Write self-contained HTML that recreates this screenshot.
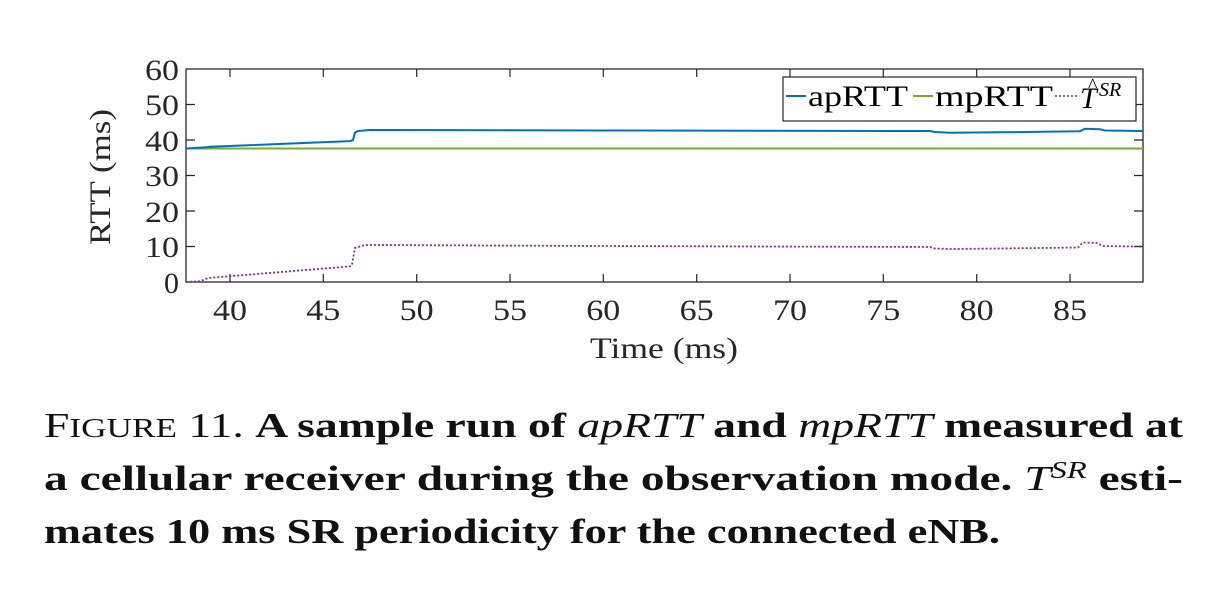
<!DOCTYPE html>
<html><head><meta charset="utf-8"><style>
html,body{margin:0;padding:0;background:#fff;}
svg{display:block;}
</style></head><body>
<svg width="1222" height="598" viewBox="0 0 1222 598" xmlns="http://www.w3.org/2000/svg" font-family="Liberation Serif, serif">
<rect width="1222" height="598" fill="#fff"/>
<rect x="186" y="69" width="957" height="213" fill="none" stroke="#262626" stroke-width="1.3"/>
<g stroke="#262626" stroke-width="1.2">
<path d="M230 282v-8M323.3 282v-8M416.7 282v-8M510 282v-8M603.3 282v-8M696.7 282v-8M790 282v-8M883.3 282v-8M976.7 282v-8M1070 282v-8"/>
<path d="M230 69v8M323.3 69v8M416.7 69v8M510 69v8M603.3 69v8M696.7 69v8M790 69v8M883.3 69v8M976.7 69v8M1070 69v8"/>
<path d="M186 246.5h9M186 211h9M186 175.5h9M186 140h9M186 104.5h9"/>
<path d="M1143 246.5h-9M1143 211h-9M1143 175.5h-9M1143 140h-9M1143 104.5h-9"/>
</g>
<g font-size="30" fill="#262626" text-anchor="end">
<text x="179" y="293" >0</text>
<text x="179" y="257" textLength="34" lengthAdjust="spacingAndGlyphs">10</text>
<text x="179" y="222" textLength="34" lengthAdjust="spacingAndGlyphs">20</text>
<text x="179" y="186" textLength="34" lengthAdjust="spacingAndGlyphs">30</text>
<text x="179" y="151" textLength="34" lengthAdjust="spacingAndGlyphs">40</text>
<text x="179" y="115" textLength="34" lengthAdjust="spacingAndGlyphs">50</text>
<text x="179" y="80" textLength="34" lengthAdjust="spacingAndGlyphs">60</text>
</g>
<g font-size="30" fill="#262626" text-anchor="middle">
<text x="230" y="320" textLength="34" lengthAdjust="spacingAndGlyphs">40</text>
<text x="323.3" y="320" textLength="34" lengthAdjust="spacingAndGlyphs">45</text>
<text x="416.7" y="320" textLength="34" lengthAdjust="spacingAndGlyphs">50</text>
<text x="510" y="320" textLength="34" lengthAdjust="spacingAndGlyphs">55</text>
<text x="603.3" y="320" textLength="34" lengthAdjust="spacingAndGlyphs">60</text>
<text x="696.7" y="320" textLength="34" lengthAdjust="spacingAndGlyphs">65</text>
<text x="790" y="320" textLength="34" lengthAdjust="spacingAndGlyphs">70</text>
<text x="883.3" y="320" textLength="34" lengthAdjust="spacingAndGlyphs">75</text>
<text x="976.7" y="320" textLength="34" lengthAdjust="spacingAndGlyphs">80</text>
<text x="1070" y="320" textLength="34" lengthAdjust="spacingAndGlyphs">85</text>
<text x="664" y="358" textLength="148" lengthAdjust="spacingAndGlyphs">Time (ms)</text>
<text transform="translate(110 177) rotate(-90)" textLength="136" lengthAdjust="spacingAndGlyphs">RTT (ms)</text>
</g>
<polyline fill="none" stroke="#77ac30" stroke-width="2" points="186,148.5 1143,148.5"/>
<polyline fill="none" stroke="#0072bd" stroke-width="2" points="186,148.5 207,147.3 210,146.8 350,141.1 353,140 355,132.5 358,131 370,130 600,130.5 930,131 935,132 950,132.7 1000,132.3 1080,131.2 1085,128.7 1100,129.2 1105,130.5 1143,131"/>
<polyline fill="none" stroke="#7e2f8e" stroke-width="1.8" stroke-dasharray="2 2" points="186,282 200,281.3 208,278 350,266.4 352,264.5 355,248 365,245 370,245 600,246 930,247 935,248.5 950,249 1000,248.5 1078,247.5 1083,242.5 1097,243 1103,246 1143,246.6"/>
<rect x="783" y="77" width="353" height="44" fill="#fff" stroke="#262626" stroke-width="1.2"/>
<line x1="786" y1="96" x2="806" y2="96" stroke="#0072bd" stroke-width="2"/>
<text x="808" y="106" font-size="30" fill="#000" textLength="100" lengthAdjust="spacingAndGlyphs">apRTT</text>
<line x1="913" y1="96" x2="933" y2="96" stroke="#77ac30" stroke-width="2"/>
<text x="935" y="106" font-size="30" fill="#000" textLength="118" lengthAdjust="spacingAndGlyphs">mpRTT</text>
<line x1="1055" y1="96" x2="1077" y2="96" stroke="#7e2f8e" stroke-width="1.6" stroke-dasharray="2 2"/>
<text x="1080" y="108" font-size="30" font-style="italic" fill="#000">T</text>
<text x="1088" y="92" font-size="20" fill="#000">^</text>
<text x="1099" y="96" font-size="20" font-style="italic" fill="#000">SR</text>
<g font-size="35" fill="#111">
<text x="44" y="437" textLength="1139" lengthAdjust="spacingAndGlyphs"><tspan>F</tspan><tspan font-size="27">IGURE</tspan> 11. <tspan font-weight="bold">A sample run of </tspan><tspan font-style="italic">apRTT</tspan><tspan font-weight="bold"> and </tspan><tspan font-style="italic">mpRTT</tspan><tspan font-weight="bold"> measured at</tspan></text>
<text x="44" y="490" font-weight="bold" textLength="1139" lengthAdjust="spacingAndGlyphs">a cellular receiver during the observation mode. <tspan font-weight="normal" font-style="italic">T</tspan><tspan font-weight="normal" font-style="italic" font-size="24" dy="-12">SR</tspan><tspan dy="12"> esti-</tspan></text>
<text x="44" y="543" font-weight="bold" textLength="956" lengthAdjust="spacingAndGlyphs">mates 10 ms SR periodicity for the connected eNB.</text>
</g>
</svg>
</body></html>
